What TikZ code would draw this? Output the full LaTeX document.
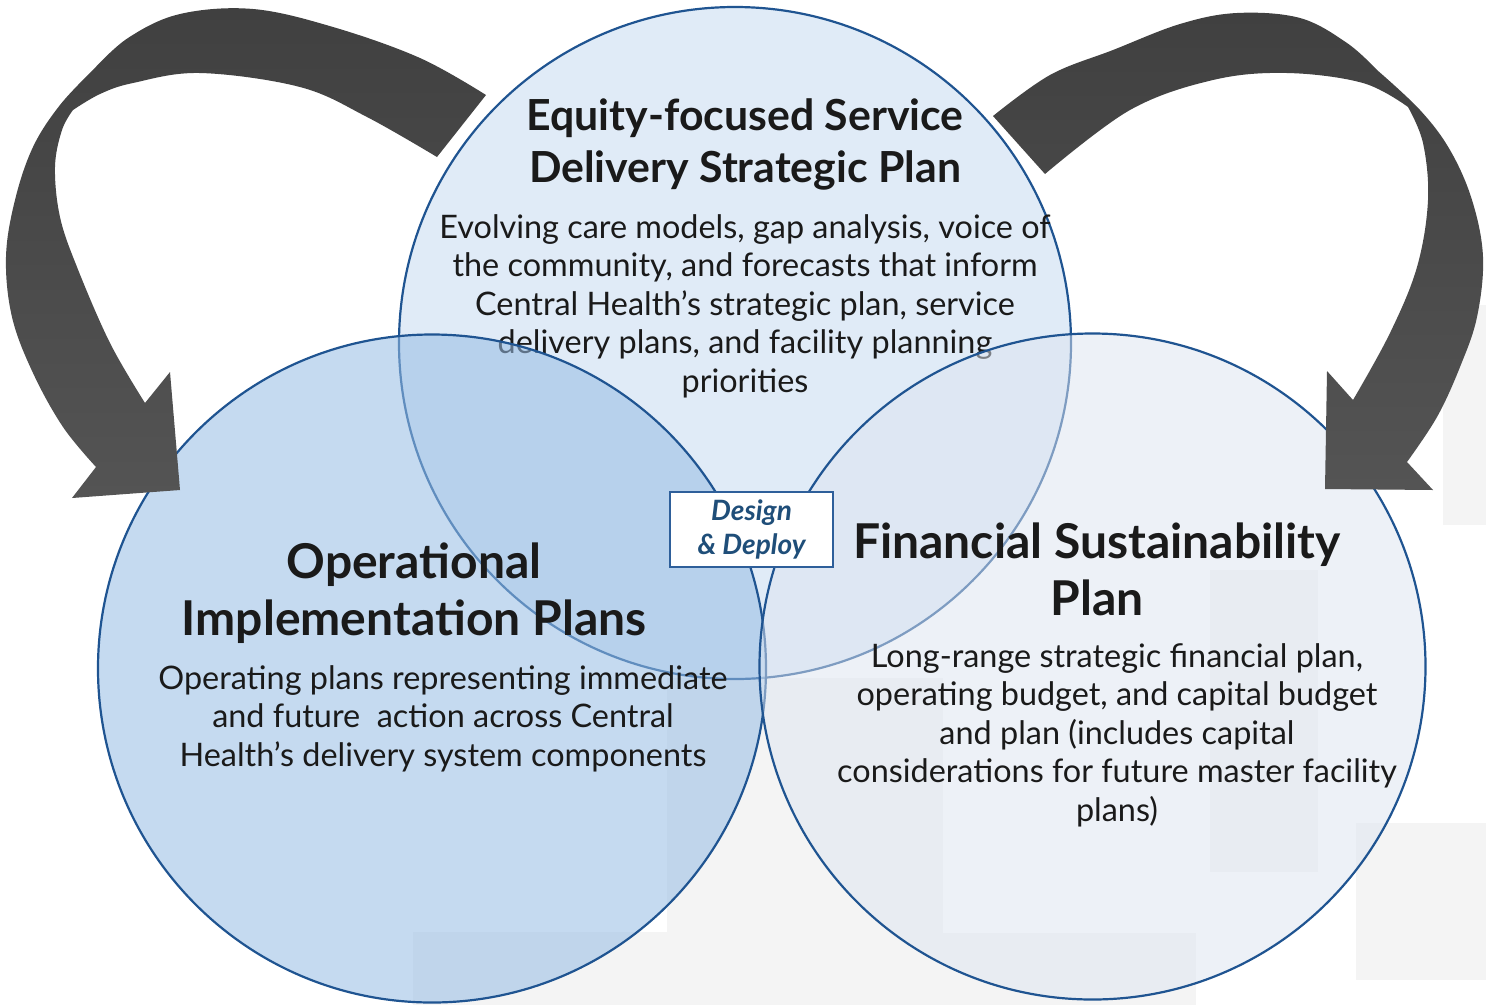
\documentclass[tikz,border=0pt]{standalone}
\usepackage{fontspec}
\setmainfont{Lato}

\definecolor{ringblue}{RGB}{31,84,145}
\definecolor{topfill}{RGB}{224,235,247}
\definecolor{leftfill}{RGB}{150,188,228}
\definecolor{rightfill}{RGB}{221,229,241}
\definecolor{paper}{RGB}{244,244,244}
\definecolor{arrowtop}{RGB}{64,64,64}
\definecolor{arrowbottom}{RGB}{84,84,84}
\definecolor{inktext}{RGB}{26,26,26}
\definecolor{boxblue}{RGB}{46,95,154}
\definecolor{boxtext}{RGB}{31,78,121}

\begin{document}
\begin{tikzpicture}[x=1pt,y=-1pt,
  ring/.style={draw=ringblue, line width=2.2pt},
  disc/.style={circle, inner sep=0pt, outer sep=0pt, ring},
  % multi-line nodes are anchored at the baseline of their last line
  toptitle/.style={anchor=base, align=center, inner sep=0pt, text=inktext,
    font=\fontsize{42.8}{52}\selectfont\bfseries},
  bigtitle/.style={anchor=base, align=center, inner sep=0pt, text=inktext,
    font=\fontsize{48}{57}\selectfont\bfseries},
  bodytext/.style={anchor=base, align=center, inner sep=0pt, text=inktext,
    font=\fontsize{32.4}{38.4}\selectfont},
  bentarrow/.style={top color=arrowtop, bottom color=arrowbottom, draw=none}]

% canvas
\useasboundingbox (0,0) rectangle (1486,1005);
\fill[white] (0,0) rectangle (1486,1005);

% faint backdrop panels
\fill[paper] (413,932) rectangle (668,1005);
\fill[paper] (667,678) rectangle (943,1005);
\fill[paper] (943,933) rectangle (1196,1005);
\fill[paper] (1210,570) rectangle (1318,872);
\fill[paper] (1443,305) rectangle (1486,525);
\fill[paper] (1356,823) rectangle (1486,980);

% strategic plan circle
\node[disc, fill=topfill, minimum size=672pt] (equity) at (735,343) {};
\node[toptitle] (equitytitle) at (745,182) {Equity-focused Service\\Delivery Strategic Plan};
\node[bodytext] (equitybody) at (745,392) {Evolving care models, gap analysis, voice of\\
  the community, and forecasts that inform\\
  Central Health’s strategic plan, service\\
  delivery plans, and facility planning\\
  priorities};

% operational circle
\node[disc, fill=leftfill, fill opacity=0.55, minimum size=668pt] (operational) at (432,668.5) {};
% financial circle
\node[disc, fill=rightfill, fill opacity=0.5, minimum size=666pt] (financial) at (1092.5,666.5) {};

\node[bigtitle] (operationaltitle) at (414,635) {Operational\\Implementation Plans};
\node[bodytext] (operationalbody) at (443,766) {Operating plans representing immediate\\
  and future\ \ action across Central\\
  Health’s delivery system components};

\node[bigtitle] (financialtitle) at (1097,615) {Financial Sustainability\\Plan};
\node[bodytext] (financialbody) at (1117,821) {Long-range strategic financial plan,\\
  operating budget, and capital budget\\
  and plan (includes capital\\
  considerations for future master facility\\
  plans)};

% curved arrow feeding the operational plans
\shade[bentarrow]
  plot[smooth, tension=0.6] coordinates {(486,95) (420,58) (333,27) (253,9) (180,14) (128,38) (93,70)}
  -- plot[smooth, tension=0.6] coordinates {(93,70) (60,105) (33,147) (15,200) (6,257) (12,317) (33,373) (63,427) (96,467)}
  -- (72,498) -- (180,490) -- (170,372) -- (145,403)
  -- plot[smooth, tension=0.6] coordinates {(145,403) (110,343) (77,267) (60,217) (55,167) (62,130) (73,110)}
  -- plot[smooth, tension=0.6] coordinates {(73,110) (100,94) (133,83) (200,73) (300,87) (367,117) (437,157)}
  -- cycle;

% curved arrow feeding the financial plan
\shade[bentarrow]
  plot[smooth, tension=0.6] coordinates {(993,116) (1050,75) (1113,50) (1180,24) (1237,13) (1300,18) (1347,43) (1377,70)}
  -- plot[smooth, tension=0.6] coordinates {(1377,70) (1420,110) (1450,150) (1472,200) (1483,257) (1477,317) (1460,367) (1437,417) (1407,462)}
  -- (1433,490) -- (1325,489) -- (1327,371) -- (1353,400)
  -- plot[smooth, tension=0.6] coordinates {(1353,400) (1390,333) (1417,267) (1428,200) (1423,143) (1408,107)}
  -- plot[smooth, tension=0.6] coordinates {(1408,107) (1363,83) (1287,73) (1213,80) (1130,110) (1045,174)}
  -- cycle;

% centre label
\node[draw=boxblue, line width=1.8pt, fill=white, minimum width=163pt, minimum height=75pt,
  inner sep=0pt, align=center, text=boxtext,
  font=\fontsize{28}{34}\selectfont\bfseries\itshape] (designdeploy) at (751.5,529.5)
  {Design\\\& Deploy};

\end{tikzpicture}
\end{document}
